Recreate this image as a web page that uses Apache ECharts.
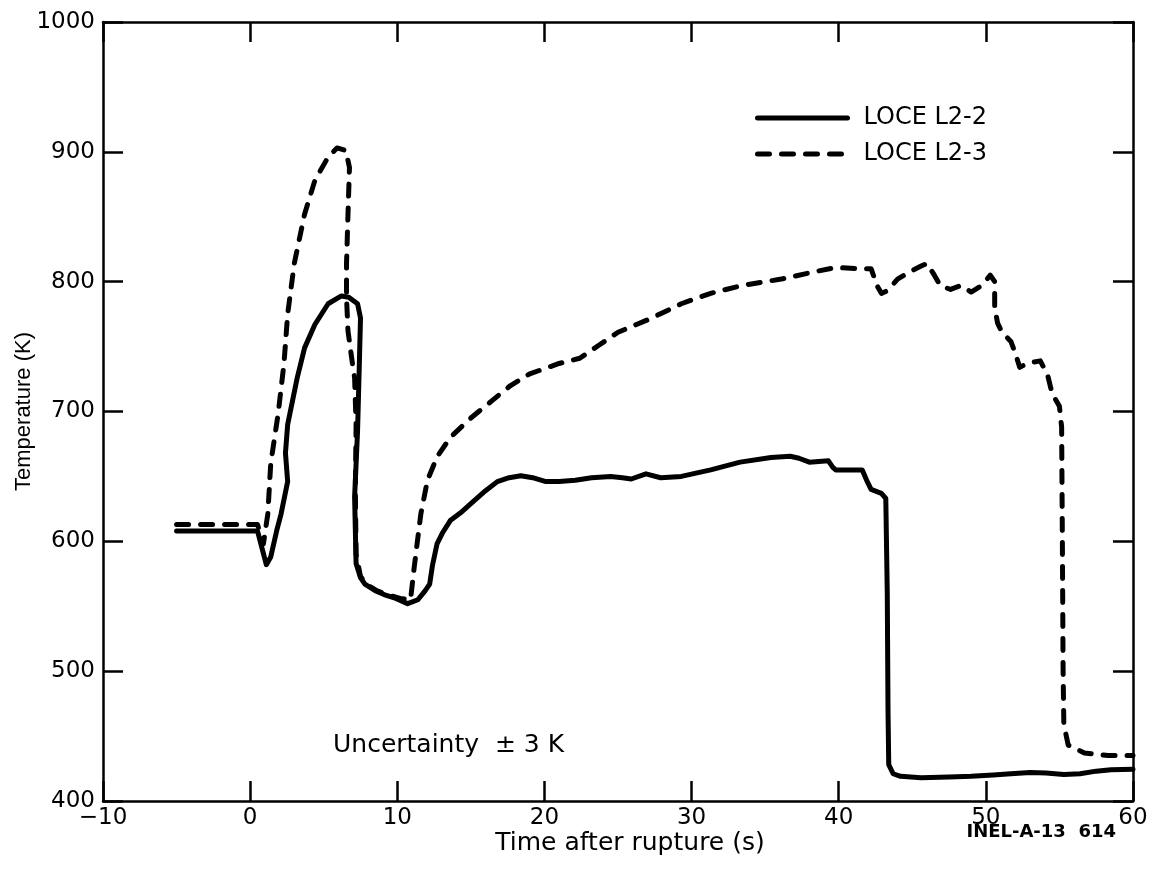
<!DOCTYPE html>
<html>
<head>
<meta charset="utf-8">
<script src="https://cdn.jsdelivr.net/npm/echarts@6/dist/echarts.min.js"></script>
<style>
  html, body { margin: 0; padding: 0; background: #fff; }
  #tempChart { width: 1151px; height: 874px; }
</style>
</head>
<body>
<div id="tempChart"></div>
<script>
// LOCE L2-2 (solid)
const l22Time = [-5, 0.5, 0.8, 1.1, 1.4, 1.8, 2.1, 2.55, 2.4, 2.55, 3.2, 3.7, 4.4, 5.3, 6.2, 6.7, 7.3, 7.5, 7.42, 7.3, 7.1, 7.2, 7.5, 7.8, 8.5, 9.1, 9.9, 10.7, 11.4, 11.9, 12.2, 12.4, 12.7, 13.1, 13.6, 14.3, 15.0, 16.0, 16.8, 17.6, 18.4, 19.2, 20.1, 21.0, 22.1, 23.2, 24.5, 25.3, 25.9, 26.9, 27.9, 29.3, 31.3, 33.3, 35.4, 36.7, 37.3, 38.0, 39.3, 39.6, 39.8, 41.6, 41.9, 42.2, 42.9, 43.2, 43.3, 43.35, 43.4, 43.7, 44.2, 45.6, 47.5, 49.0, 50.5, 51.7, 53.0, 54.1, 55.3, 56.4, 57.5, 58.5, 60];
const l22Temp = [608, 608, 595, 582, 588, 608, 621, 646, 668, 690, 726, 749, 767, 783, 789, 788, 783, 772, 736, 685, 634, 583, 572, 567, 562, 559, 556, 552, 555, 562, 567, 582, 598, 607, 616, 622, 629, 639, 646, 649, 650.5, 649, 646, 646, 647, 649, 650, 649, 648, 652, 649, 650, 655, 661, 664.5, 665.5, 664, 661, 662, 657, 655, 655, 647, 640, 637, 633, 560, 470, 428, 421, 419, 418, 418.5, 419, 420, 421, 422, 421.5, 420.5, 421, 423, 424, 424.5];

// LOCE L2-3 (dashed)
const l23Time = [-5, 0.5, 0.9, 1.2, 1.4, 1.9, 2.3, 2.55, 3.0, 3.7, 4.4, 5.3, 5.9, 6.5, 6.75, 6.65, 6.55, 6.55, 6.65, 6.95, 7.1, 7.2, 7.15, 7.2, 7.5, 7.9, 8.6, 9.3, 10.2, 10.9, 11.15, 11.4, 11.6, 12.05, 12.7, 13.6, 15.0, 16.4, 17.7, 19.0, 21.0, 22.4, 23.7, 25.0, 27.2, 29.3, 31.3, 33.4, 36.1, 38.1, 39.8, 41.2, 42.2, 42.6, 42.9, 43.3, 44.0, 44.9, 45.6, 46.0, 46.5, 46.9, 47.6, 48.3, 49.0, 49.7, 50.3, 50.6, 50.6, 50.8, 51.1, 51.7, 52.0, 52.3, 52.8, 53.7, 54.2, 54.5, 55.0, 55.15, 55.2, 55.25, 55.3, 55.6, 56.7, 58.3, 60];
const l23Temp = [613, 613, 598, 621, 660, 698, 737, 775, 814, 852, 878, 896, 903, 901, 888, 852, 814, 788, 762, 737, 726, 690, 640, 590, 573, 567, 562, 559, 556, 555, 580, 603, 621, 647, 665, 680, 695, 708, 720, 729, 737, 741, 751, 761, 771.5, 783, 791, 797, 802, 807, 811, 810, 810, 797, 791, 793, 802, 808, 812, 814, 805, 797, 794, 797, 792, 797, 805, 800, 780, 768, 761, 754, 745, 734, 737, 739, 728, 714, 704, 688, 600, 500, 459, 443, 437, 435, 435];

const seriesNames = ['LOCE L2-2', 'LOCE L2-3'];

const chartTemp = echarts.init(document.getElementById('tempChart'));

const tickFont = { fontFamily: 'DejaVu Sans', fontSize: 23, color: '#000' };
const axisLine = { show: true, onZero: false, lineStyle: { color: '#000', width: 2.5 } };
const axisTick = { show: true, inside: true, length: 20, lineStyle: { color: '#000', width: 2.5 } };

const optionTemp = {
    animation: false,
    backgroundColor: '#fff',
    grid: { left: 103, right: 18, top: 22, bottom: 73, containLabel: false, outerBoundsMode: 'none' },
    legend: {
        orient: 'vertical',
        left: 750,
        top: 101,
        itemWidth: 90,
        itemHeight: 14,
        itemGap: 12,
        data: seriesNames,
        itemStyle: { opacity: 0 },
        lineStyle: { width: 5, type: 'inherit', cap: 'round' },
        textStyle: { fontFamily: 'DejaVu Sans', fontSize: 24, color: '#000', padding: [0, 0, 0, 11] }
    },
    xAxis: [{
        type: 'value',
        min: -10,
        max: 60,
        interval: 10,
        name: 'Time after rupture (s)',
        nameLocation: 'middle',
        nameGap: 30,
        nameMoveOverlap: false,
        nameTextStyle: { fontFamily: 'DejaVu Sans', fontSize: 25, color: '#000', padding: [0, 0, 0, 24] },
        axisLine: axisLine,
        axisTick: axisTick,
        axisLabel: {
            ...tickFont,
            margin: 6,
            formatter: (v) => (v < 0 ? '\u2212' + Math.abs(v) : '' + v)
        },
        splitLine: { show: false }
    }, {
        type: 'value',
        position: 'top',
        min: -10,
        max: 60,
        interval: 10,
        axisLine: axisLine,
        axisTick: axisTick,
        axisLabel: { show: false },
        splitLine: { show: false }
    }],
    yAxis: [{
        type: 'value',
        min: 400,
        max: 1000,
        interval: 100,
        name: 'Temperature (K)',
        nameLocation: 'middle',
        nameGap: 68,
        nameMoveOverlap: false,
        nameTextStyle: { fontFamily: 'Liberation Sans', fontSize: 22, color: '#000' },
        axisLine: axisLine,
        axisTick: axisTick,
        axisLabel: { ...tickFont, margin: 8, formatter: (v) => '' + v },
        splitLine: { show: false }
    }, {
        type: 'value',
        position: 'right',
        min: 400,
        max: 1000,
        interval: 100,
        axisLine: axisLine,
        axisTick: axisTick,
        axisLabel: { show: false },
        splitLine: { show: false }
    }],
    graphic: [{
        type: 'text',
        left: 333,
        top: 733,
        style: { text: 'Uncertainty  \u00b1 3 K', font: '25px "DejaVu Sans"', fill: '#000' }
    }, {
        type: 'text',
        right: 35,
        top: 823,
        style: { text: 'INEL-A-13  614', font: 'bold 18px "DejaVu Sans"', fill: '#000' }
    }],
    series: [{
        name: seriesNames[0],
        type: 'line',
        xAxisIndex: 0,
        yAxisIndex: 0,
        showSymbol: false,
        symbol: 'none',
        data: l22Time.map((t, i) => [t, l22Temp[i]]),
        lineStyle: { color: '#000', width: 5, type: 'solid', cap: 'round', join: 'round' },
        itemStyle: { color: '#000' }
    }, {
        name: seriesNames[1],
        type: 'line',
        xAxisIndex: 0,
        yAxisIndex: 0,
        showSymbol: false,
        symbol: 'none',
        data: l23Time.map((t, i) => [t, l23Temp[i]]),
        lineStyle: { color: '#000', width: 5, type: [12, 12], cap: 'round', join: 'round' },
        itemStyle: { color: '#000' }
    }]
};

chartTemp.setOption(optionTemp);
</script>
</body>
</html>
